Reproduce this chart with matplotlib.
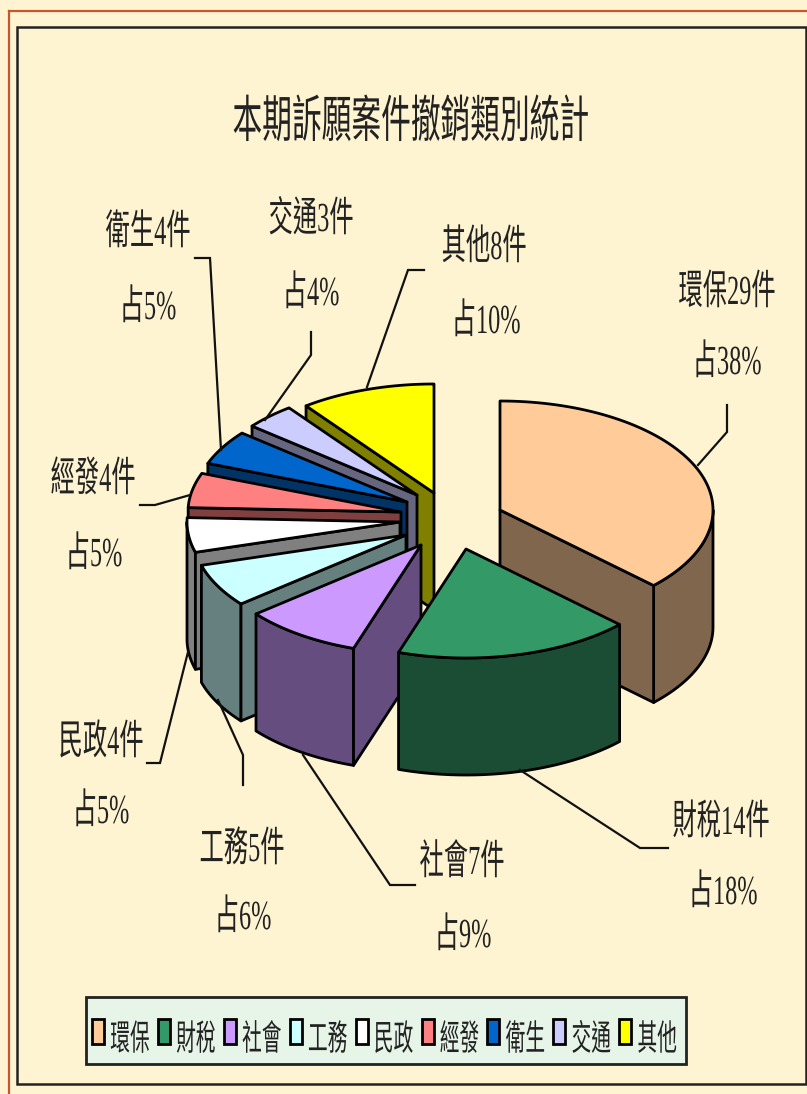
import numpy as np
import matplotlib
matplotlib.use('Agg')
import matplotlib.pyplot as plt
import matplotlib.patheffects as pe
from matplotlib.patches import Polygon, Rectangle
from matplotlib.transforms import Affine2D

# --- data ---
categories = ['環保', '財稅', '社會', '工務', '民政', '經發', '衛生', '交通', '其他']
counts = [29, 14, 7, 5, 4, 4, 4, 3, 8]
percents = [38, 18, 9, 6, 5, 5, 5, 4, 10]
title = '本期訴願案件撤銷類別統計'

# --- styles / layout ---
colors = ['#FFCC99', '#339966', '#CC99FF', '#CCFFFF', '#FFFFFF',
          '#FF8080', '#0066CC', '#CCCCFF', '#FFFF00']
apex = [(500, 510), (466, 549), (421, 545), (406, 535), (400, 522),
        (401, 512), (407, 502), (417, 495), (434, 493)]
draw_order = [0, 8, 7, 6, 5, 4, 3, 2, 1]
RX, RY, DEPTH = 213, 109, 117
label_pos = [((727, 304), (727, 374)), ((721, 834), (723, 904)), ((462, 874), (463, 947)),
             ((242, 861), (243, 929)), ((101, 754), (101, 823)), ((93, 491), (94, 566)),
             ((148, 244), (148, 319)), ((311, 231), (311, 305)), ((484, 259), (486, 333))]
leaders = [[(727, 405), (727, 432), (698, 465)],
           [(668, 848), (640, 848), (520, 770)],
           [(415, 885), (390, 885), (303, 755)],
           [(243, 785), (243, 755), (218, 700)],
           [(147, 763), (160, 763), (188, 652)],
           [(140, 505), (155, 505), (190, 495)],
           [(195, 258), (210, 258), (221, 450)],
           [(311, 332), (311, 355), (265, 420)],
           [(424, 270), (408, 270), (367, 387)]]
BG = '#FEF4D2'
FONT = ['Liberation Serif', 'Noto Sans CJK TC']


class Stretch(pe.AbstractPathEffect):
    """Tall, narrow glyphs: stretch the real text vertically about its baseline."""
    def __init__(self, sy):
        super().__init__()
        self.sy = sy

    def draw_path(self, renderer, gc, tpath, affine, rgbFace=None):
        renderer.draw_path(gc, tpath, Affine2D().scale(1, self.sy) + affine, rgbFace)


def put_text(ax, x, y, s, size, sy=1.7):
    t = ax.text(x, y, s, ha='center', va='baseline', fontsize=size, family=FONT,
                color='#222222', fontweight='light', zorder=50)
    t.set_path_effects([Stretch(sy)])
    return t


def point(c, th, dy=0):
    return (c[0] + RX * np.sin(th), c[1] - RY * np.cos(th) + dy)


fig = plt.figure(figsize=(8.07, 10.94), dpi=100, facecolor=BG)
ax = fig.add_axes([0, 0, 1, 1])
ax.set_xlim(0, 807)
ax.set_ylim(1094, 0)
ax.axis('off')

# page frames
ax.plot([8.5, 8.5], [1094, 10.5], color='#C8552B', lw=1.6, zorder=1)
ax.plot([8.5, 807], [10.5, 10.5], color='#C8552B', lw=1.6, zorder=1)
ax.add_patch(Rectangle((16.5, 26.5), 789, 1057, fc='none', ec='#222222', lw=1.8, zorder=1))

put_text(ax, 411, 137, title, 21.4, 1.7)

# slices
edges = np.concatenate([[0], np.cumsum(counts)]) / np.sum(counts) * 2 * np.pi
for i in draw_order:
    t0, t1 = edges[i], edges[i + 1]
    c = apex[i]
    top = matplotlib.colors.to_rgb(colors[i])
    side = tuple(v * 0.5 for v in top)
    z = 10 + draw_order.index(i) * 2
    kw = dict(closed=True, ec='black', lw=2.0, joinstyle='round', zorder=z)
    # outer wall (front half only)
    a0, a1 = max(t0, np.pi / 2), min(t1, 3 * np.pi / 2)
    if a1 > a0:
        th = np.linspace(a0, a1, 60)
        upper = [point(c, v) for v in th]
        lower = [point(c, v, DEPTH) for v in th[::-1]]
        ax.add_patch(Polygon(upper + lower, fc=side, **kw))
    # radial walls facing the viewer
    if np.sin(t0) < -1e-6:
        p = point(c, t0)
        ax.add_patch(Polygon([c, p, (p[0], p[1] + DEPTH), (c[0], c[1] + DEPTH)], fc=side, **kw))
    if np.sin(t1) > 1e-6:
        p = point(c, t1)
        ax.add_patch(Polygon([c, p, (p[0], p[1] + DEPTH), (c[0], c[1] + DEPTH)], fc=side, **kw))
    th = np.linspace(t0, t1, 80)
    ax.add_patch(Polygon([c] + [point(c, v) for v in th], fc=top, **kw))

# leader lines and labels
for i, name in enumerate(categories):
    xs, ys = zip(*leaders[i])
    ax.plot(xs, ys, color='#111111', lw=1.6, zorder=40, solid_joinstyle='miter')
    (x1, y1), (x2, y2) = label_pos[i]
    put_text(ax, x1, y1, f'{name}{counts[i]}件', 17.5)
    put_text(ax, x2, y2, f'占{percents[i]}%', 17.5)

# legend
ax.add_patch(Rectangle((85.5, 996.5), 600, 67, fc='#E6F5E8', ec='#222222', lw=2.0, zorder=30))
for i, name in enumerate(categories):
    x = 92 + i * 65.9
    ax.add_patch(Rectangle((x, 1019), 12, 25, fc=colors[i], ec='black', lw=2.0, zorder=31))
    put_text(ax, x + 38, 1050, name, 14.2, 1.8)

fig.savefig('out.png', dpi=100, facecolor=BG)
